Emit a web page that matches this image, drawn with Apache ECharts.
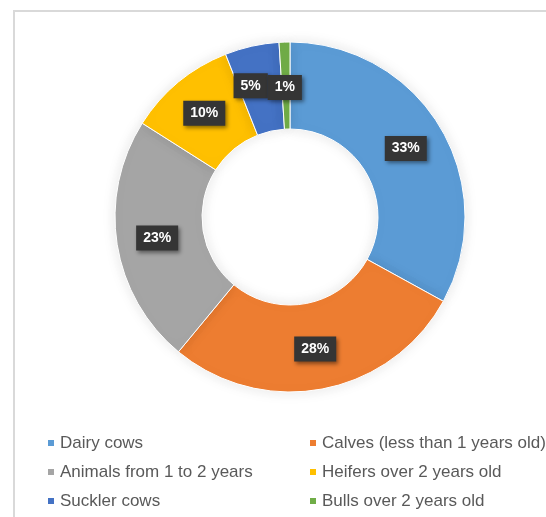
<!DOCTYPE html>
<html>
<head>
<meta charset="utf-8">
<style>
  html, body { margin: 0; padding: 0; background: #ffffff; }
  #chart { width: 546px; height: 517px; }
</style>
<script src="https://cdn.jsdelivr.net/npm/echarts@6/dist/echarts.min.js"></script>
</head>
<body>
<div id="chart"></div>
<script>
// ---- data ----
const categories = [
  "Dairy cows",
  "Calves (less than 1 years old)",
  "Animals from 1 to 2 years",
  "Heifers over 2 years old",
  "Suckler cows",
  "Bulls over 2 years old"
];
const shares = [33, 28, 23, 10, 5, 1];
const colors = ["#5B9BD5", "#ED7D31", "#A5A5A5", "#FFC000", "#4472C4", "#70AD47"];

const leftLegend = [categories[0], categories[2], categories[4]];
const rightLegend = [categories[1], categories[3], categories[5]];

const chart = echarts.init(document.getElementById('chart'), null, { renderer: 'canvas' });

const legendCommon = {
  orient: 'vertical',
  icon: 'rect',
  itemWidth: 8,
  itemHeight: 8,
  itemGap: 9,
  top: 428,
  selectedMode: false,
  textStyle: {
    fontFamily: 'Liberation Sans, Arial, sans-serif',
    fontSize: 17,
    lineHeight: 20,
    color: '#595959'
  }
};

// nudge the two tiny-slice labels apart horizontally (as the original does)
function labelNudge(params) {
  const n = params.dataIndex;
  if (n === categories.length - 2) return { dx: -10, dy: 0, hideOverlap: false };
  if (n === categories.length - 1) return { dx: -1, dy: 5, hideOverlap: false };
  return { hideOverlap: false };
}

const option = {
  backgroundColor: '#ffffff',
  animation: false,
  color: colors,
  graphic: [{
    type: 'rect',
    shape: { x: 14, y: 11, width: 700, height: 700 },
    style: { fill: 'none', stroke: '#d9d9d9', lineWidth: 2 },
    silent: true,
    z: -10
  }],
  legend: [
    Object.assign({}, legendCommon, { left: 41, data: leftLegend }),
    Object.assign({}, legendCommon, { left: 303, data: rightLegend })
  ],
  series: [{
    type: 'pie',
    center: [290, 217],
    radius: [88, 175],
    startAngle: 90,
    clockwise: true,
    avoidLabelOverlap: false,
    minShowLabelAngle: 0,
    labelLayout: labelNudge,
    itemStyle: {
      borderColor: '#ffffff',
      borderWidth: 1,
      shadowBlur: 14,
      shadowColor: 'rgba(0,0,0,0.10)'
    },
    label: {
      show: true,
      position: 'inside',
      formatter: '{c}%',
      color: '#ffffff',
      fontFamily: 'Liberation Sans, Arial, sans-serif',
      fontWeight: 'bold',
      fontSize: 14,
      lineHeight: 15,
      backgroundColor: '#353535',
      padding: [5, 7],
      shadowBlur: 4,
      shadowColor: 'rgba(0,0,0,0.45)',
      shadowOffsetX: 2,
      shadowOffsetY: 2
    },
    labelLine: { show: false },
    emphasis: { disabled: true },
    data: categories.map((name, i) => ({ name: name, value: shares[i] }))
  }]
};

chart.setOption(option);
</script>
</body>
</html>
